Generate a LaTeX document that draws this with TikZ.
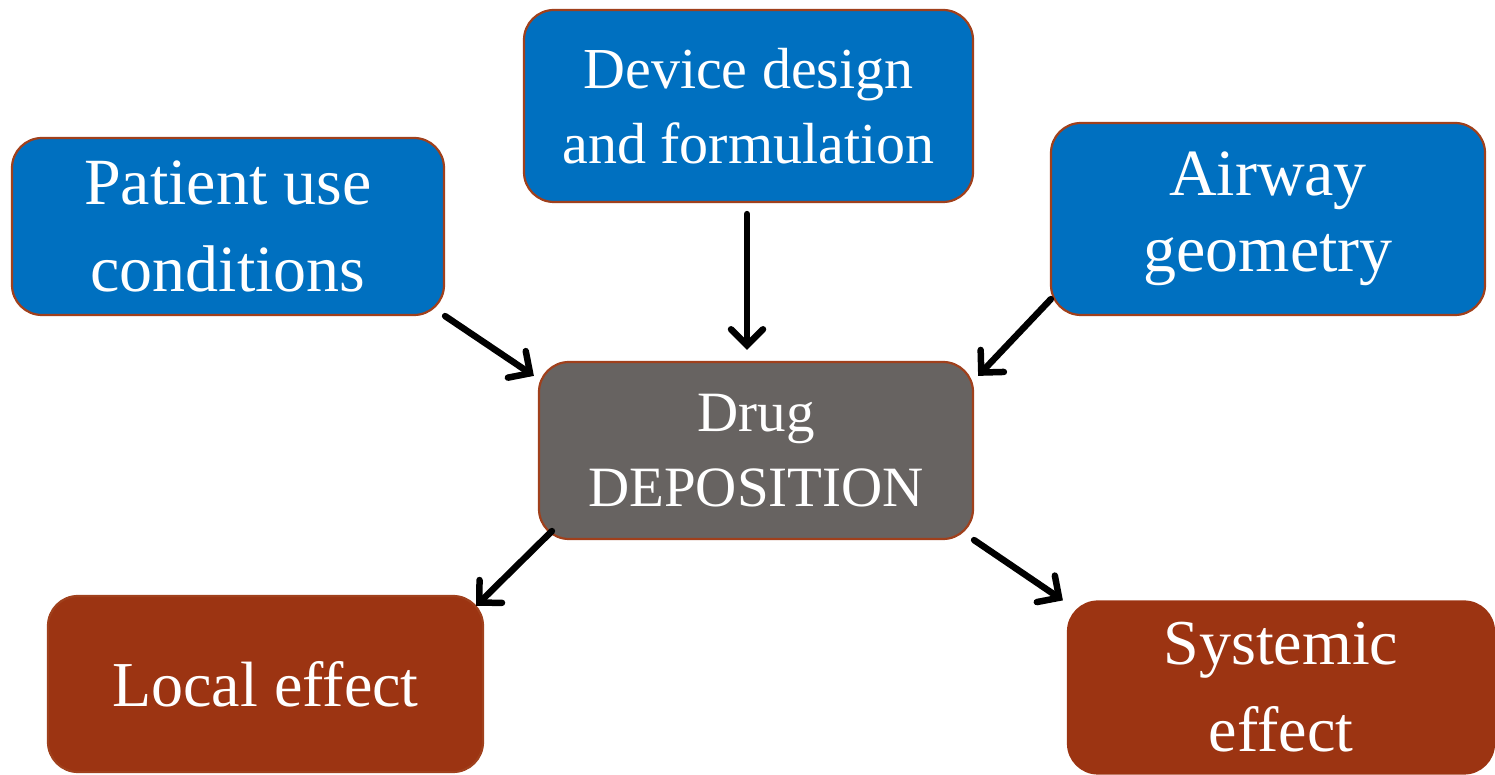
\documentclass[tikz,border=0pt]{standalone}
\usepackage{fontspec}
\setmainfont{Liberation Serif}
\usetikzlibrary{arrows.meta}
\definecolor{boxblue}{HTML}{0070C0}
\definecolor{boxbrown}{HTML}{9C3412}
\definecolor{boxgray}{HTML}{676361}
\definecolor{edgebrown}{HTML}{A0401C}
\begin{document}
\begin{tikzpicture}[x=1pt,y=1pt,
  box/.style={draw=edgebrown, line width=2.2pt, rounded corners=30pt, text=white, align=center, inner sep=0pt},
  bluebox/.style={box, fill=boxblue},
  graybox/.style={box, fill=boxgray},
  brownbox/.style={box, fill=boxbrown},
  conn/.style={line width=6.5pt, line cap=round, -{Straight Barb[length=16pt,width=32pt,line width=6.5pt,line cap=round]}}
]
\useasboundingbox (0,0) rectangle (1495,775);
\clip (0,0) rectangle (1495,775);
\node[bluebox, minimum width=432pt, minimum height=177pt, font=\fontsize{66}{87}\selectfont] (patient) at (228,548.5) {Patient use\\conditions};
\node[bluebox, minimum width=449pt, minimum height=192pt, font=\fontsize{58}{75}\selectfont] (device) at (748.5,669) {Device design\\and formulation};
\node[bluebox, minimum width=434pt, minimum height=192pt, font=\fontsize{66}{76}\selectfont] (airway) at (1268,556) {Airway\\geometry};
\node[graybox, minimum width=434pt, minimum height=177pt, font=\fontsize{57}{75}\selectfont] (drug) at (756,324.5) {Drug\\DEPOSITION};
\node[brownbox, minimum width=435pt, minimum height=176pt, font=\fontsize{64}{80}\selectfont] (local) at (265.5,91) {Local effect};
\node[brownbox, draw=boxbrown, minimum width=426pt, minimum height=172pt, font=\fontsize{64}{87}\selectfont] (systemic) at (1281,87.5) {Systemic\\effect};
\draw[conn] (patient.south east) -- ([shift={(-4,-15)}]drug.north west);
\draw[conn] ([shift={(-1.5,-11)}]device.south) -- ([shift={(-1.5,11)}]device.south |- drug.north);
\draw[conn] ([shift={(1,17)}]airway.south west) -- ([shift={(4,-15)}]drug.north east);
\draw[conn] ([shift={(14,9)}]drug.south west) -- ([shift={(-8,-11)}]local.north east);
\draw[conn] (drug.south east) -- ([shift={(-4,0)}]systemic.north west);
\end{tikzpicture}
\end{document}
